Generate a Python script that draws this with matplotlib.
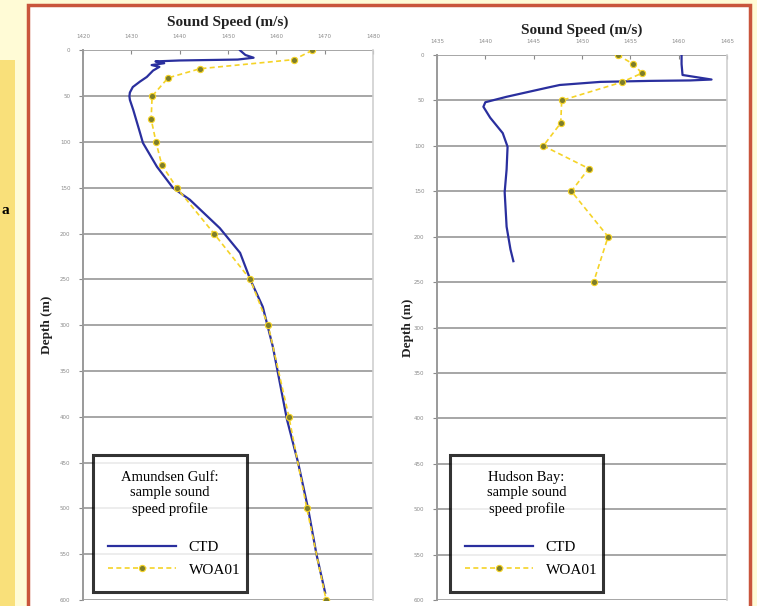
import matplotlib
matplotlib.use("Agg")
import matplotlib.pyplot as plt
from matplotlib.patches import Rectangle

# ---------------- data ----------------
# Amundsen Gulf
ag_ctd_depth = [0, 5, 8, 10, 11, 12, 14, 16, 18, 22, 29, 34, 40, 46, 50, 54, 65, 90, 101,
                127, 150, 163, 194, 221, 250, 280, 324, 403, 450, 501, 550, 592]
ag_ctd_speed = [1452.5, 1453.6, 1455.3, 1452.0, 1440.0, 1435.0, 1436.8, 1434.2, 1435.8, 1434.5,
                1433.2, 1431.8, 1430.3, 1429.7, 1429.6, 1429.7, 1430.4, 1431.8, 1432.4,
                1435.3, 1438.6, 1442.1, 1448.3, 1452.5, 1454.6, 1457.2, 1459.3, 1462.2,
                1464.5, 1466.6, 1468.3, 1470.1]
ag_woa_depth = [0, 10, 20, 30, 50, 75, 100, 125, 150, 200, 250, 300, 400, 500, 600]
ag_woa_speed = [1467.4, 1463.7, 1444.2, 1437.6, 1434.3, 1434.1, 1435.1, 1436.3, 1439.4,
                1447.1, 1454.6, 1458.3, 1462.6, 1466.3, 1470.3]

# Hudson Bay
hb_ctd_depth = [0, 10, 22, 25, 27, 28, 28.5, 29.6, 33, 36, 46, 52, 57, 69, 86, 101, 126,
                151, 189, 214, 227]
hb_ctd_speed = [1460.3, 1460.3, 1460.4, 1462.2, 1463.4, 1461.2, 1457.0, 1451.9, 1447.7,
                1446.4, 1442.2, 1440.0, 1439.8, 1440.5, 1441.8, 1442.3, 1442.2, 1442.0,
                1442.2, 1442.6, 1442.9]
hb_woa_depth = [0, 10, 20, 30, 50, 75, 100, 125, 150, 200, 250]
hb_woa_speed = [1453.7, 1455.3, 1456.2, 1454.1, 1447.9, 1447.8, 1446.0, 1450.7, 1448.9,
                1452.7, 1451.2]

ag_xticks = [1420, 1430, 1440, 1450, 1460, 1470, 1480]
hb_xticks = [1435, 1440, 1445, 1450, 1455, 1460, 1465]
depth_ticks = list(range(0, 601, 50))

ag_title = "Amundsen Gulf:\nsample sound\nspeed profile"
hb_title = "Hudson Bay:\nsample sound\nspeed profile"

# ---------------- style ----------------
W, H = 757, 606
SERIF = ["Liberation Serif", "DejaVu Serif"]
CTD_COLOR = "#2a2f9e"
WOA_COLOR = "#f5d327"
WOA_MARK = "#7d7d2a"
GRID = "#a6a6a6"

fig = plt.figure(figsize=(W / 100, H / 100), dpi=100)
fig.patch.set_facecolor("#fffbd6")


def fx(px):
    return px / W


def fy(py):
    return 1 - py / H


# background decorations
fig.patches.append(Rectangle((0, 0), fx(15), fy(60), transform=fig.transFigure,
                             facecolor="#f9e07a", edgecolor="none", zorder=-2))
fig.patches.append(Rectangle((fx(28), -0.02), fx(750 - 28), fy(5) + 0.02,
                             transform=fig.transFigure, facecolor="white",
                             edgecolor="#c9553c", linewidth=2.5, zorder=-1))
fig.text(fx(2), fy(210), "a", fontsize=11, fontweight="bold", color="black",
         family=SERIF, va="center", ha="left")


def make_axes(x0, x1, y0, y1):
    ax = fig.add_axes([fx(x0), fy(y1), fx(x1 - x0), (y1 - y0) / H])
    ax.set_zorder(2)
    return ax


def style(ax, xticks, xlim, title, ctd_d, ctd_s, woa_d, woa_s, legend_box,
          xlabelpad, ylabelpad):
    ax.plot(ctd_s, ctd_d, color=CTD_COLOR, lw=1.6, label="CTD", zorder=3)
    ax.plot(woa_s, woa_d, color=WOA_COLOR, lw=1.2, ls=(0, (3, 2)), marker="o",
            markersize=4.5, markerfacecolor=WOA_MARK, markeredgecolor=WOA_COLOR,
            markeredgewidth=0.8, label="WOA01", zorder=4)
    ax.set_xlim(xlim)
    ax.set_ylim(600, 0)
    ax.set_xticks(xticks)
    ax.set_yticks(depth_ticks)
    ax.xaxis.tick_top()
    ax.xaxis.set_label_position("top")
    ax.tick_params(axis="both", labelsize=4, colors="#8a8a8a", length=3, width=0.8,
                   pad=6)
    ax.tick_params(axis="x", direction="in", pad=8)
    ax.grid(axis="y", color=GRID, lw=1.4)
    ax.set_axisbelow(True)
    for side in ["top", "bottom"]:
        ax.spines[side].set_visible(False)
    ax.spines["left"].set_color("#9a9a9a")
    ax.spines["left"].set_linewidth(1.4)
    ax.spines["right"].set_color("#cfcfcf")
    ax.spines["right"].set_linewidth(1.2)
    ax.set_xlabel("Sound Speed (m/s)", family=SERIF, fontsize=11, fontweight="bold",
                  labelpad=xlabelpad, color="#222222")
    ax.set_ylabel("Depth (m)", family=SERIF, fontsize=9.5, fontweight="bold",
                  labelpad=ylabelpad, color="#222222")
    leg = ax.legend(title=title + "\n", loc="lower left", bbox_to_anchor=legend_box,
                    mode="expand", prop={"family": SERIF, "size": 11},
                    title_fontproperties={"family": SERIF, "size": 10.5},
                    frameon=True, fancybox=False, handlelength=4.4, handletextpad=0.85,
                    borderpad=1.0, labelspacing=0.6, borderaxespad=0)
    leg.get_frame().set_edgecolor("black")
    leg.get_frame().set_linewidth(2.2)
    leg.get_title().set_multialignment("center")
    leg.get_title().set_linespacing(1.25)
    leg.set_zorder(10)


ax1 = make_axes(83, 373, 50.4, 600)
style(ax1, ag_xticks, (1420, 1480), ag_title, ag_ctd_depth, ag_ctd_speed,
      ag_woa_depth, ag_woa_speed,
      ((93 - 83) / 290, (600 - 592) / 549.6, (247 - 93) / 290, 0.26), 6, 5)

ax2 = make_axes(437, 727, 55, 600)
style(ax2, hb_xticks, (1435, 1465), hb_title, hb_ctd_depth, hb_ctd_speed,
      hb_woa_depth, hb_woa_speed,
      ((450 - 437) / 290, (600 - 592) / 545, (603 - 450) / 290, 0.26), 4, 0)

fig.savefig("out.png", dpi=100, facecolor=fig.get_facecolor())
